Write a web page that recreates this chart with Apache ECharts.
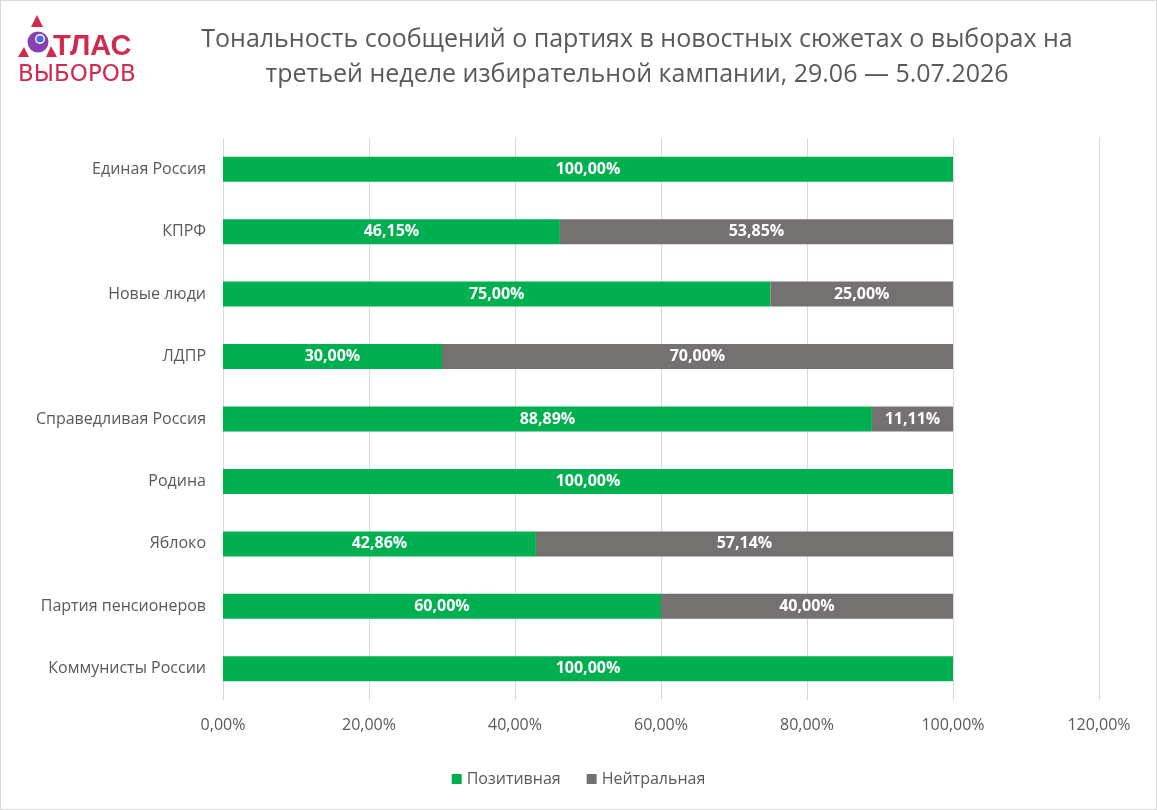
<!DOCTYPE html>
<html>
<head>
<meta charset="utf-8">
<script src="https://cdn.jsdelivr.net/npm/echarts@6/dist/echarts.min.js"></script>
<style>
  html, body { margin: 0; padding: 0; background: #fff; }
  #chart { width: 1157px; height: 810px; box-sizing: border-box; border: 1px solid #d9d9d9; }
</style>
</head>
<body>
<div id="chart"></div>
<script>
// партии (сверху вниз)
const parties = ['Единая Россия', 'КПРФ', 'Новые люди', 'ЛДПР', 'Справедливая Россия',
  'Родина', 'Яблоко', 'Партия пенсионеров', 'Коммунисты России'];
const positive = [100, 46.15, 75, 30, 88.89, 100, 42.86, 60, 100];
const neutral = [0, 53.85, 25, 70, 11.11, 0, 57.14, 40, 0];
const seriesNames = ['Позитивная', 'Нейтральная'];
const colors = ['#00b050', '#767171'];

const font = '"Open Sans", "Noto Sans", sans-serif';
const fmt = v => v.toFixed(2).replace('.', ',') + '%';

const chart = echarts.init(document.getElementById('chart'));

function barSeries(name, data, color) {
  return {
    name: name,
    type: 'bar',
    stack: 'total',
    data: data.map(v => v === 0 ? null : v),
    barWidth: 25,
    itemStyle: { color: color },
    label: {
      show: true,
      color: '#fff',
      fontWeight: 'bold',
      fontSize: 16,
      fontFamily: font,
      formatter: p => fmt(p.value)
    }
  };
}

chart.setOption({
  backgroundColor: '#fff',
  textStyle: { fontFamily: font },
  title: {
    text: 'Тональность сообщений о партиях в новостных сюжетах о выборах на\nтретьей неделе избирательной кампании, 29.06 — 5.07.2026',
    left: 631,
    top: 16,
    textAlign: 'center',
    textStyle: { fontSize: 25, fontWeight: 'normal', color: '#595959', lineHeight: 35, fontFamily: font }
  },
  legend: {
    bottom: 17,
    left: 'center',
    itemWidth: 10,
    itemHeight: 10,
    itemGap: 26,
    icon: 'rect',
    textStyle: { fontSize: 16, color: '#595959' },
    data: seriesNames
  },
  grid: { left: 222, right: 57, top: 137, bottom: 109, containLabel: false },
  xAxis: {
    type: 'value',
    min: 0,
    max: 120,
    interval: 20,
    axisLine: { show: false },
    axisTick: { show: false },
    splitLine: { lineStyle: { color: '#d9d9d9', width: 1 } },
    axisLabel: { formatter: v => v.toFixed(2).replace('.', ',') + '%', color: '#595959', fontSize: 16, margin: 17 }
  },
  yAxis: {
    type: 'category',
    inverse: true,
    data: parties,
    axisLine: { show: false },
    axisTick: { show: false },
    axisLabel: { color: '#595959', fontSize: 16, margin: 17 }
  },
  graphic: [
    { type: 'polygon', shape: { points: [[36, 14], [30, 26], [42, 26]] }, style: { fill: '#d12a4f' } },
    { type: 'polygon', shape: { points: [[23, 46], [17, 56], [28, 56]] }, style: { fill: '#d12a4f' } },
    { type: 'polygon', shape: { points: [[50, 45], [45, 56], [56, 56]] }, style: { fill: '#d12a4f' } },
    { type: 'circle', shape: { cx: 37, cy: 41, r: 10.5 }, style: { fill: '#8a3fb3' } },
    { type: 'circle', shape: { cx: 39, cy: 38, r: 5 }, style: { fill: '#fff' } },
    { type: 'circle', shape: { cx: 39, cy: 38, r: 3.6 }, style: { fill: '#4a6cf0' } },
    { type: 'text', left: 52, top: 31, style: { text: 'ТЛАС', fill: '#d12a4f', font: 'bold 29px "Liberation Sans", sans-serif' } },
    { type: 'text', left: 17, top: 63, style: { text: 'ВЫБОРОВ', fill: '#d12a4f', font: '23px "DejaVu Sans", sans-serif' } }
  ],
  series: [
    barSeries(seriesNames[0], positive, colors[0]),
    barSeries(seriesNames[1], neutral, colors[1])
  ]
});
</script>
</body>
</html>
